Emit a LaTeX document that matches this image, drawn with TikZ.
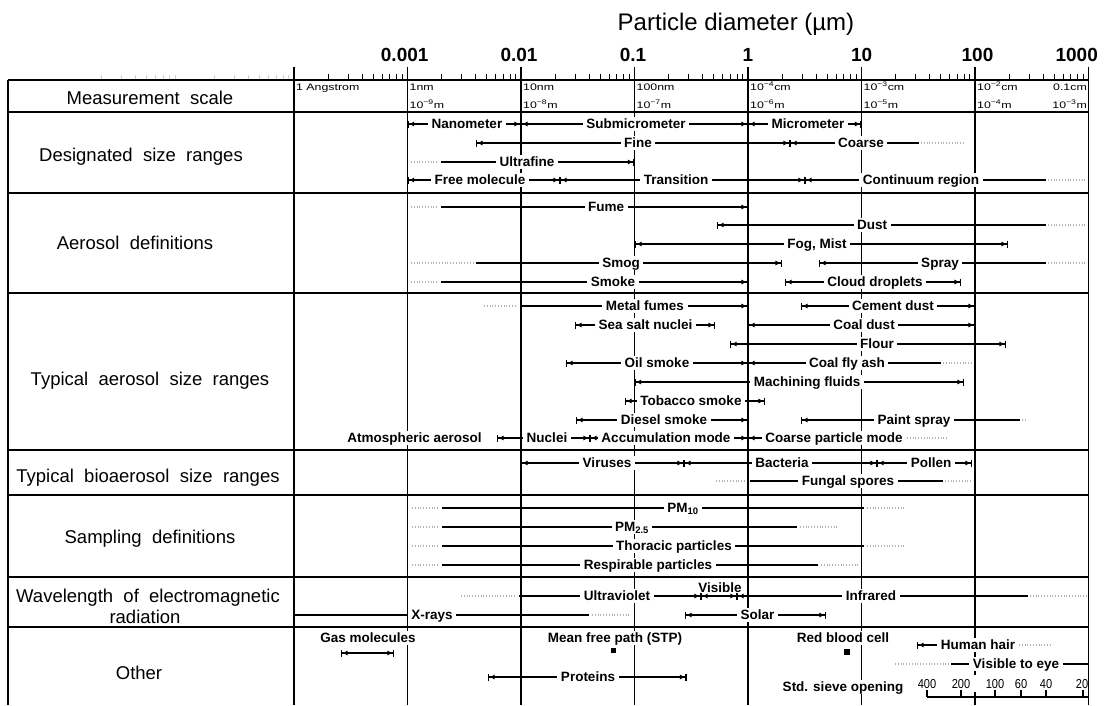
\documentclass[tikz,border=0pt]{standalone}
\usepackage{fontspec}
\setmainfont{Liberation Sans}
\newfontfamily\colfont{Liberation Sans}[WordSpace=2]
\newfontfamily\widefont{Liberation Sans}[FakeStretch=1.3]
\newfontfamily\condfont{Liberation Sans}[FakeStretch=0.85]
\usetikzlibrary{arrows.meta}
\tikzset{
  gline/.style={line width=1.15pt},
  hsep/.style={line width=1.9pt},
  rl/.style={line width=1.15pt},
  dt/.style={gray!60, line width=1.1pt, dash pattern=on 0.9pt off 1.9pt},
  ltip/.style={arrows={{Bar[width=7pt,line width=1.1pt,sep=0pt]Latex[length=5.5pt,width=5pt,sep=0pt]}-}},
  rtip/.style={arrows={-{Latex[length=5.5pt,width=5pt,sep=0pt]Bar[width=7pt,line width=1.1pt,sep=0pt]}}},
  btip/.style={arrows={{Bar[width=7pt,line width=1.1pt,sep=0pt]Latex[length=5.5pt,width=5pt,sep=0pt]}-{Latex[length=5.5pt,width=5pt,sep=0pt]Bar[width=7pt,line width=1.1pt,sep=0pt]}}},
  lab/.style={font=\bfseries\fontsize{13.5}{14}\selectfont, fill=white, inner xsep=3.5pt, inner ysep=1pt, text height=11pt, text depth=1.5pt},
  plainlab/.style={font=\bfseries\fontsize{13.5}{14}\selectfont, anchor=base, inner sep=0pt},
  collab/.style={font=\colfont\fontsize{18.5}{20}\selectfont, anchor=base, inner sep=0pt},
  declab/.style={font=\bfseries\fontsize{19}{20}\selectfont, anchor=base, inner sep=0pt},
  mtop/.style={font=\widefont\fontsize{9.5}{10}\selectfont, anchor=base west, inner sep=0pt},
  sievelab/.style={font=\condfont\fontsize{13}{14}\selectfont, anchor=base, inner sep=0pt},
  sq/.style={fill=black, draw=none, minimum size=5pt, inner sep=0pt},
}
\begin{document}
\begin{tikzpicture}[x=1pt,y=-1pt]
\useasboundingbox (0,0) rectangle (1104,705);
\fill[white] (0,0) rectangle (1104,705);

% faint ticks left of the table scale
\foreach \k in {0,1}{
  \foreach \m in {2,...,9}{
    \draw[gray!35, line width=0.8pt] ({67+113.5*\k+113.5*log10(\m)},80) -- ++(0,-5);
  }
}
% axis ticks
\foreach \k in {0,...,6}{
  \foreach \m in {2,...,9}{
    \draw[line width=0.9pt] ({294+113.5*\k+113.5*log10(\m)},80) -- ++(0,-6);
  }
}
% vertical grid lines
\foreach \x in {294,407.5,521,634.5,748,861.5,975,1088.5}{
  \draw[gline] (\x,67) -- (\x,705);
}
\draw[gline] (8,80) -- (8,705);
% horizontal separators
\foreach \y in {80,112,193,293,450,495,577,627}{
  \draw[hsep] (8,\y) -- (1088.5,\y);
}

% title and decade numbers
\node[font=\fontsize{24}{27}\selectfont, anchor=base, inner sep=0pt] (title) at (736,30) {Particle diameter (µm)};
\node[declab] (d1) at (404.7,61.8) {0.001};
\node[declab] (d2) at (519,61.8) {0.01};
\node[declab] (d3) at (633,61.8) {0.1};
\node[declab] (d4) at (748,61.8) {1};
\node[declab] (d5) at (861.7,61.8) {10};
\node[declab] (d6) at (977.5,61.8) {100};
\node[declab] (d7) at (1076.7,61.8) {1000};

% measurement scale row
\node[mtop] (m0) at (296,90.4) {1 Angstrom};
\node[mtop] (m1) at (409.5,90.4) {1nm};
\node[mtop] (m2) at (523,90.4) {10nm};
\node[mtop] (m3) at (636.5,90.4) {100nm};
\node[mtop] (m4) at (750,90.4) {10\textsuperscript{−4}cm};
\node[mtop] (m5) at (863.5,90.4) {10\textsuperscript{−3}cm};
\node[mtop] (m6) at (977,90.4) {10\textsuperscript{−2}cm};
\node[mtop, anchor=base east] (m7) at (1087,90.4) {0.1cm};
\node[mtop] (b1) at (409.5,108.8) {10\textsuperscript{−9}m};
\node[mtop] (b2) at (523,108.8) {10\textsuperscript{−8}m};
\node[mtop] (b3) at (636.5,108.8) {10\textsuperscript{−7}m};
\node[mtop] (b4) at (750,108.8) {10\textsuperscript{−6}m};
\node[mtop] (b5) at (863.5,108.8) {10\textsuperscript{−5}m};
\node[mtop] (b6) at (977,108.8) {10\textsuperscript{−4}m};
\node[mtop, anchor=base east] (b7) at (1087,108.8) {10\textsuperscript{−3}m};

% left column
\node[collab] (c1) at (150,104.3) {Measurement scale};
\node[collab] (c2) at (141,161.6) {Designated size ranges};
\node[collab] (c3) at (135,249.6) {Aerosol definitions};
\node[collab] (c4) at (150,385.6) {Typical aerosol size ranges};
\node[collab] (c5) at (148,482.6) {Typical bioaerosol size ranges};
\node[collab] (c6) at (150,543.6) {Sampling definitions};
\node[collab] (c7a) at (148,602.5) {Wavelength of electromagnetic};
\node[collab] (c7b) at (145,623) {radiation};
\node[collab] (c8) at (139,679.6) {Other};

% ---- Designated size ranges
\draw[rl,btip] (407.5,124) -- (521,124);
\draw[rl,btip] (521,124) -- (748,124);
\draw[rl,btip] (748,124) -- (861.5,124);
\draw[rl,btip] (476,143) -- (790,143);
\draw[rl,ltip] (790,143) -- (919,143);
\draw[dt] (921,143) -- (965,143);
\draw[dt] (411,162) -- (437,162);
\draw[rl,rtip] (441,162) -- (634.5,162);
\draw[rl,btip] (407.5,180) -- (560,180);
\draw[rl,btip] (560,180) -- (805,180);
\draw[rl,ltip] (805,180) -- (1046,180);
\draw[dt] (1048,180) -- (1087,180);

% ---- Aerosol definitions
\draw[dt] (411,207) -- (437,207);
\draw[rl,rtip] (441,207) -- (748,207);
\draw[rl,ltip] (717,225) -- (1046,225);
\draw[dt] (1048,225) -- (1087,225);
\draw[rl,btip] (635,244) -- (1008,244);
\draw[dt] (411,263) -- (473,263);
\draw[rl,rtip] (476,263) -- (782,263);
\draw[rl,ltip] (819,263) -- (1046,263);
\draw[dt] (1048,263) -- (1087,263);
\draw[dt] (411,282) -- (437,282);
\draw[rl,rtip] (441,282) -- (748,282);
\draw[rl,btip] (785,282) -- (961,282);

% ---- Typical aerosol size ranges
\draw[dt] (484,306) -- (516,306);
\draw[rl,rtip] (521,306) -- (748,306);
\draw[rl,btip] (801,306) -- (975,306);
\draw[rl,btip] (575,325) -- (715,325);
\draw[rl,btip] (748,325) -- (975,325);
\draw[rl,btip] (730,344) -- (1006,344);
\draw[rl,btip] (566,363) -- (748,363);
\draw[rl,ltip] (748,363) -- (941,363);
\draw[dt] (943,363) -- (972,363);
\draw[rl,btip] (634.5,382) -- (964,382);
\draw[rl,btip] (625,401) -- (765,401);
\draw[rl,btip] (576,420) -- (748,420);
\draw[rl,ltip] (801,420) -- (1020,420);
\draw[dt] (1022,420) -- (1027,420);
\draw[rl,btip] (497,438) -- (590,438);
\draw[rl,btip] (590,438) -- (748,438);
\draw[rl,ltip] (748,438) -- (905,438);
\draw[dt] (907,438) -- (947,438);

% ---- Bioaerosol
\draw[rl,btip] (521,463) -- (684,463);
\draw[rl,btip] (684,463) -- (877,463);
\draw[rl,btip] (877,463) -- (972,463);
\draw[dt] (716,481) -- (746,481);
\draw[rl] (750,481) -- (943,481);
\draw[dt] (945,481) -- (973,481);

% ---- Sampling definitions
\foreach \y/\e/\f in {508/864/906, 527/797/838, 546/864/906, 565/818/859}{
  \draw[dt] (412,\y) -- (438,\y);
  \draw[rl] (442,\y) -- (\e,\y);
  \draw[dt] ({\e+3},\y) -- (\f,\y);
}

% ---- Wavelength
\draw[dt] (461,596) -- (517,596);
\draw[rl,rtip] (519,596) -- (701,596);
\draw[rl,btip] (701,596) -- (737,596);
\draw[rl,ltip] (737,596) -- (1028,596);
\draw[dt] (1030,596) -- (1087,596);
\draw[rl] (294,615) -- (589,615);
\draw[dt] (592,615) -- (631,615);
\draw[rl,btip] (685,615) -- (826,615);

% ---- Other
\draw[rl,btip] (341,653) -- (394,653);
\node[sq] (mfp) at (613,650.5) {};
\node[sq, minimum size=6pt] (rbc) at (847,652) {};
\draw[rl,ltip] (917,645) -- (1016,645);
\draw[dt] (1019,645) -- (1052,645);
\draw[dt] (895,664) -- (949,664);
\draw[rl] (951,664) -- (1088.5,664);
\draw[rl,btip] (488,677) -- (686.5,677);

% sieve scale
\fill[white] (915,675) rectangle (1087.5,692);
\node[sievelab] (s1) at (927,688) {400};
\node[sievelab] (s2) at (961,688) {200};
\node[sievelab] (s3) at (995,688) {100};
\node[sievelab] (s4) at (1021,688) {60};
\node[sievelab] (s5) at (1046,688) {40};
\node[sievelab] (s6) at (1082,688) {20};
\draw[rl] (927,697) -- (1088.5,697);
\foreach \x in {927,961,995,1021,1046,1083}{
  \draw[rl] (\x,690) -- (\x,697);
}

% ---- labels (white background hides lines behind)
\node[lab] (l1) at (467,124) {Nanometer};
\node[lab] (l2) at (636,124) {Submicrometer};
\node[lab] (l3) at (808,124) {Micrometer};
\node[lab] (l4) at (638,143) {Fine};
\node[lab] (l5) at (861,143) {Coarse};
\node[lab] (l6) at (527,162) {Ultrafine};
\node[lab] (l7) at (480,180) {Free molecule};
\node[lab] (l8) at (676,180) {Transition};
\node[lab] (l9) at (921,180) {Continuum region};

\node[lab] (a1) at (606,207) {Fume};
\node[lab] (a2) at (872,225) {Dust};
\node[lab] (a3) at (817,244) {Fog, Mist};
\node[lab] (a4) at (621,263) {Smog};
\node[lab] (a5) at (940,263) {Spray};
\node[lab] (a6) at (613,282) {Smoke};
\node[lab] (a7) at (875,282) {Cloud droplets};

\node[lab] (t1) at (645,306) {Metal fumes};
\node[lab] (t2) at (893,306) {Cement dust};
\node[lab] (t3) at (645.6,325) {Sea salt nuclei};
\node[lab] (t4) at (864,325) {Coal dust};
\node[lab] (t5) at (877,344) {Flour};
\node[lab] (t6) at (657,363) {Oil smoke};
\node[lab] (t7) at (847,363) {Coal fly ash};
\node[lab] (t8) at (807,382) {Machining fluids};
\node[lab] (t9) at (691,401) {Tobacco smoke};
\node[lab] (t10) at (664,420) {Diesel smoke};
\node[lab] (t11) at (914,420) {Paint spray};
\node[lab] (t12) at (414.6,438) {Atmospheric aerosol};
\node[lab] (t13) at (547,438) {Nuclei};
\node[lab] (t14) at (666,438) {Accumulation mode};
\node[lab] (t15) at (834,438) {Coarse particle mode};

\node[lab] (v1) at (607,463) {Viruses};
\node[lab] (v2) at (782,463) {Bacteria};
\node[lab] (v3) at (931,463) {Pollen};
\node[lab] (v4) at (848,481) {Fungal spores};

\node[lab] (p1) at (683,508) {PM\textsubscript{10}};
\node[lab] (p2) at (632,527) {PM\textsubscript{2.5}};
\node[lab] (p3) at (674,546) {Thoracic particles};
\node[lab] (p4) at (648,565) {Respirable particles};

\node[plainlab] (w0) at (720,592) {Visible};
\node[lab] (w1) at (617,596) {Ultraviolet};
\node[lab] (w2) at (871,596) {Infrared};
\node[lab] (w3) at (432,615) {X-rays};
\node[lab] (w4) at (757.5,615) {Solar};

\node[lab] (o1) at (368,638) {Gas molecules};
\node[lab] (o2) at (615,638) {Mean free path (STP)};
\node[lab] (o3) at (843,638) {Red blood cell};
\node[lab] (o4) at (978,645) {Human hair};
\node[lab] (o5) at (1016,664) {Visible to eye};
\node[lab] (o6) at (588,677) {Proteins};
\node[lab] (o7) at (843,687) {Std. sieve opening};
\end{tikzpicture}
\end{document}
